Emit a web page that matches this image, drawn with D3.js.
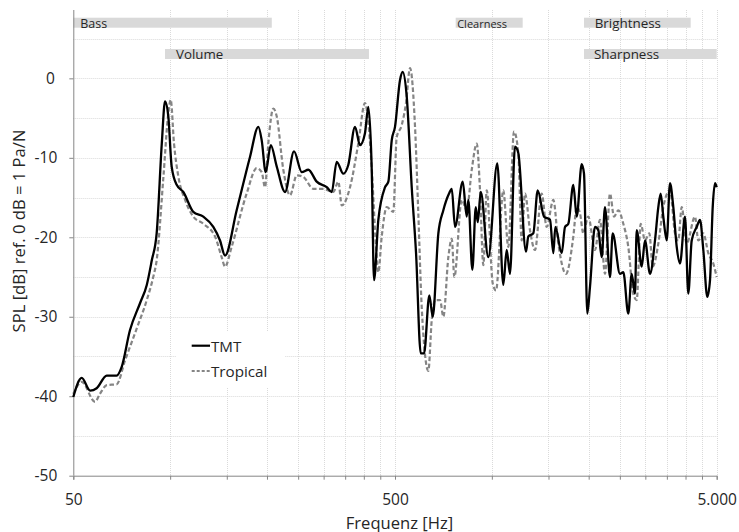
<!DOCTYPE html>
<html>
<head>
<meta charset="utf-8">
<script src="https://cdn.jsdelivr.net/npm/d3@7"></script>
<style>
  body { margin: 0; background: #fff; }
  svg { display: block; font-family: "Open Sans", sans-serif; }
</style>
</head>
<body>
<svg id="chart" width="739" height="532"></svg>
<script>
// frequency response (Hz / dB)
const tmtFreq = [50, 53.1, 56.4, 59.1, 63.5, 68.2, 70.7, 75.0, 80.6, 84.6, 87.7, 90.8, 94.2, 96.4, 98.7,
  101.1, 104.8, 109.9, 118.0, 126.8, 136.2, 142.9, 148.1, 161.0, 177.1, 188.0, 192.6, 198.2, 205.5,
  214.5, 227.6, 242.7, 256.5, 268.9, 285.5, 306.7, 317.9, 329.5, 345.4, 357.9, 375.6, 389.2, 403.3,
  413.0, 423.3, 430.3, 443.8, 465.6, 476.8, 488.4, 500, 518.3, 528.4, 543.8, 563.6, 581.3, 601.2,
  615.6, 639.3, 655.1, 681.9, 706.7, 736.2, 750.6, 768.4, 811.9, 835.6, 845.1, 869.8, 891.3, 904.1,
  923.7, 975.0, 1039.8, 1085.3, 1112.1, 1138.8, 1180.2, 1208.5, 1277.0, 1298.3, 1345.5, 1388.6,
  1453.0, 1516.5, 1552.9, 1575.2, 1649.1, 1688.3, 1728.8, 1791.9, 1835.8, 1902.7, 1934.1, 1980.5,
  2019.0, 2092.5, 2142.7, 2195.2, 2247.8, 2329.5, 2375.0, 2502.4, 2562.4, 2655.5, 2721.1, 2786.0,
  2820.2, 2923.4, 2992.8, 3102.2, 3215.0, 3292.2, 3348.8, 3411.8, 3496.1, 3579.2, 3665.1, 3755.6,
  3844.9, 3985.5, 4080.2, 4180.9, 4332.8, 4436.8, 4543.3, 4675, 4766.2, 4859.3, 4939.4, 5000];
const tmtDb = [-40.1, -37.7, -39.3, -39.0, -37.4, -37.4, -36.3, -31.7, -28.3, -26.0, -22.9, -19.5, -8.2, -2.9, -4.8,
  -11.1, -13.4, -14.3, -16.8, -17.4, -18.7, -20.4, -22.3, -16.6, -9.9, -6.1, -7.8, -11.8, -8.4,
  -11.1, -14.3, -9.2, -11.8, -11.5, -13.0, -13.7, -14.3, -10.5, -12.0, -10.9, -6.1, -8.4, -6.9,
  -3.6, -11.5, -25.4, -17.8, -13.7, -13.0, -7.8, -6.1, -0.2, 0.8, -2.3, -13.7, -22.0, -34.6,
  -34.6, -27.3, -30.0, -19.5, -16.6, -14.5, -13.9, -18.7, -13.0, -17.4, -15.3, -24.1, -16.2, -18.1,
  -14.3, -22.5, -10.7, -26.0, -21.6, -24.6, -8.6, -9.4, -21.8, -19.9, -19.5, -14.1,
  -17.4, -17.8, -22.0, -18.7, -22.0, -18.7, -18.3, -13.4, -17.4, -10.8, -12.0, -29.6,
  -26.2, -18.7, -19.1, -22.5, -16.2, -25.0, -19.5, -24.6, -24.4, -29.6, -24.6, -27.1,
  -19.1, -23.7, -20.4, -24.6, -20.4, -16.2, -14.5, -17.4, -20.4, -13.2, -16.2, -21.2,
  -23.3, -17.4, -27.1, -20.4, -18.7, -17.8, -21.6, -27.5, -25.4, -16.2, -13.2, -13.7];

const tropFreq = [50, 53.1, 58.4, 60.5, 63.5, 68.2, 72.4, 78.7, 84.6, 88.6, 90.8, 95.3, 98.7, 100.4,
  102.8, 106.1, 111.3, 118.0, 126.8, 137.9, 144.6, 148.1, 155.3, 172.9, 185.8, 192.6, 197.2, 201.9,
  209.3, 214.5, 224.8, 235.9, 247.5, 259.4, 278.7, 299.2, 321.5, 333.3, 341.6, 362.4, 384.5, 403.3,
  413.0, 423.3, 436.5, 443.8, 454.7, 471.3, 494.0, 506.1, 524.6, 541.0, 556.8, 577.1, 590.8, 605.4,
  634.7, 650.4, 666.0, 690.2, 706.7, 732.5, 750.6, 764.6, 806.1, 835.6, 866.0, 897.6, 918.9, 941.0,
  964.0, 1006.4, 1030.5, 1085.3, 1125.0, 1172.0, 1208.5, 1238.1, 1267.8, 1313.8, 1361.8, 1428.6,
  1480.8, 1552.9, 1609.4, 1700.4, 1791.9, 1835.8, 1879.9, 1924.6, 1994.2, 2092.5, 2168.5, 2247.8,
  2329.5, 2397.8, 2472.0, 2562.4, 2655.5, 2751.9, 2820.2, 2902.4, 2992.8, 3086.5, 3162.7, 3292.2,
  3411.8, 3579.2, 3710.1, 3798.3, 3892.1, 4033.6, 4280.3, 4383.1, 4543.3, 4708.6, 4879.5, 5000];
const tropDb = [-39.7, -38.2, -40.7, -39.7, -38.6, -38.5, -35.5, -31.5, -27.9, -25.0, -22.9, -12.4, -4.4, -2.7,
  -8.2, -12.4, -15.3, -17.4, -18.3, -19.9, -22.5, -23.7, -21.2, -14.5, -11.3, -11.8, -13.7, -8.2,
  -3.8, -4.8, -11.5, -14.7, -12.2, -12.4, -13.9, -13.9, -14.3, -13.0, -16.0, -13.7, -8.2, -3.1,
  -5.5, -11.3, -21.2, -24.4, -19.9, -16.2, -16.8, -7.4, -5.9, -3.1, 1.3, -6.1, -17.0, -28.8,
  -36.8, -30.4, -27.9, -27.9, -30.0, -22.5, -20.2, -25.0, -15.3, -16.6, -11.5, -8.2, -14.1, -23.5,
  -14.1, -25.8, -26.7, -14.1, -21.2, -6.7, -9.4, -20.4, -14.5, -19.1, -21.6, -14.5,
  -18.7, -15.3, -20.8, -24.6, -19.9, -16.2, -17.0, -19.5, -17.4, -21.6, -17.8, -24.6,
  -14.5, -17.4, -16.6, -18.3, -21.2, -27.1, -27.9, -18.3, -20.4, -19.5, -23.7, -20.8,
  -16.2, -14.1, -19.5, -20.4, -16.2, -20.8, -17.4, -20.4, -19.5, -22.0, -23.3, -25.0];

const seriesNames = ["TMT", "Tropical"];

// axis ticks
const yMajor = [-50, -40, -30, -20, -10, 0];
const yMinor = [-45, -35, -25, -15, -5, 5];
const xLabelled = [50, 500, 5000];
const xMinor = [100, 150, 200, 250, 300, 350, 400, 450, 1000, 1500, 2000, 2500, 3000, 3500, 4000, 4500];

// attribute bands above the curves
const bandNames = ["Bass", "Volume", "Clearness", "Brightness", "Sharpness"];
const bandFrom = [50, 96.4, 772, 1934, 1934];
const bandTo = [207, 415, 1247, 4150, 5000];
const bandLane = [0, 1, 0, 0, 1];

const svg = d3.select("#chart");
const plotLeft = 73.3, plotRight = 716.7, plotTop = 10, plotBottom = 475.7;

const x = d3.scaleLog().domain([50, 5000]).range([plotLeft, plotRight]);
const y = d3.scaleLinear().domain([-50, 8.6]).range([plotBottom, plotTop]);

const de = d3.formatLocale({ decimal: ",", thousands: ".", grouping: [3], currency: ["", " €"], minus: "-" });
const fmt = de.format(",d");

// gridlines
const grid = svg.append("g").attr("stroke", "#dadada").attr("stroke-width", 1).attr("stroke-dasharray", "1,1");
grid.selectAll("line.h").data(yMajor.concat(yMinor).filter(d => d > -50))
  .join("line").attr("class", "h")
  .attr("x1", plotLeft).attr("x2", plotRight)
  .attr("y1", d => Math.round(y(d)) + 0.5).attr("y2", d => Math.round(y(d)) + 0.5);
grid.selectAll("line.v").data(xMinor.concat([500, 5000]))
  .join("line").attr("class", "v")
  .attr("x1", d => Math.round(x(d)) + 0.5).attr("x2", d => Math.round(x(d)) + 0.5)
  .attr("y1", plotTop).attr("y2", plotBottom);

// bands
const laneY = [17.7, 49];
const bandStyle = {
  Bass: { pad: 7, size: 12.5 },
  Volume: { pad: 11, size: 13.3 },
  Clearness: { pad: 1.5, size: 11 },
  Brightness: { pad: 10.7, size: 13.4 },
  Sharpness: { pad: 10, size: 13.4 }
};
const bands = svg.append("g");
bandNames.forEach((name, i) => {
  bands.append("rect")
    .attr("x", x(bandFrom[i])).attr("y", laneY[bandLane[i]])
    .attr("width", x(bandTo[i]) - x(bandFrom[i])).attr("height", 10)
    .attr("fill", "#d9d9d9");
  bands.append("text")
    .attr("x", x(bandFrom[i]) + bandStyle[name].pad)
    .attr("y", laneY[bandLane[i]] + 9.8)
    .attr("font-size", bandStyle[name].size)
    .attr("fill", "#262626")
    .text(name);
});

// axes
const xAxis = d3.axisBottom(x)
  .tickValues(xLabelled.concat(xMinor))
  .tickSize(4)
  .tickFormat(d => xLabelled.includes(d) ? fmt(d) : "");
const gx = svg.append("g").attr("transform", `translate(0,${plotBottom})`).call(xAxis);
gx.selectAll("text").attr("y", 29.3).attr("dy", null);

const yAxis = d3.axisLeft(y).tickValues(yMajor).tickSize(4).tickPadding(12).tickFormat(fmt);
const gy = svg.append("g").attr("transform", `translate(${plotLeft},0)`).call(yAxis);
// excel leaves a little room after the positive label
gy.selectAll(".tick text").filter(d => d === 0).attr("dx", -2.5);

[gx, gy].forEach(g => {
  g.select(".domain").attr("stroke", "#868686");
  g.selectAll(".tick line").attr("stroke", "#868686");
  g.selectAll("text").attr("font-family", "Open Sans").attr("font-size", 15.5).attr("fill", "#262626");
});
gy.select(".domain").attr("d", `M0.5,${plotTop}V${plotBottom}`);

// curves
const line = d3.line().x(d => x(d[0])).y(d => y(d[1])).curve(d3.curveMonotoneX);
const tmt = d3.zip(tmtFreq, tmtDb);
const trop = d3.zip(tropFreq, tropDb);

svg.append("path").datum(trop)
  .attr("d", line).attr("fill", "none")
  .attr("stroke", "#858585").attr("stroke-width", 2.2)
  .attr("stroke-dasharray", "4.5,2.5");
svg.append("path").datum(tmt)
  .attr("d", line).attr("fill", "none")
  .attr("stroke", "#000").attr("stroke-width", 2.3)
  .attr("stroke-linejoin", "round");

// legend
const lg = svg.append("g");
lg.append("rect").attr("x", 176).attr("y", 332).attr("width", 109).attr("height", 56).attr("fill", "#fff");
const legendRows = [
  { name: seriesNames[0], color: "#000", dash: null, cy: 345.7 },
  { name: seriesNames[1], color: "#858585", dash: "3,2", cy: 371 }
];
legendRows.forEach(r => {
  lg.append("line")
    .attr("x1", 191.7).attr("x2", 210).attr("y1", r.cy).attr("y2", r.cy)
    .attr("stroke", r.color).attr("stroke-width", 2.2)
    .attr("stroke-dasharray", r.dash);
  lg.append("text")
    .attr("x", 211).attr("y", r.cy + 5.8)
    .attr("font-size", 15.2).attr("fill", "#262626")
    .text(r.name);
});

// axis titles
svg.append("text")
  .attr("x", 399.5).attr("y", 528.5)
  .attr("text-anchor", "middle").attr("font-size", 16.6).attr("fill", "#262626")
  .text("Frequenz [Hz]");
svg.append("text")
  .attr("transform", "translate(25,231) rotate(-90)")
  .attr("text-anchor", "middle").attr("font-size", 16.6).attr("fill", "#262626")
  .text("SPL [dB] ref. 0 dB = 1 Pa/N");
</script>
</body>
</html>
